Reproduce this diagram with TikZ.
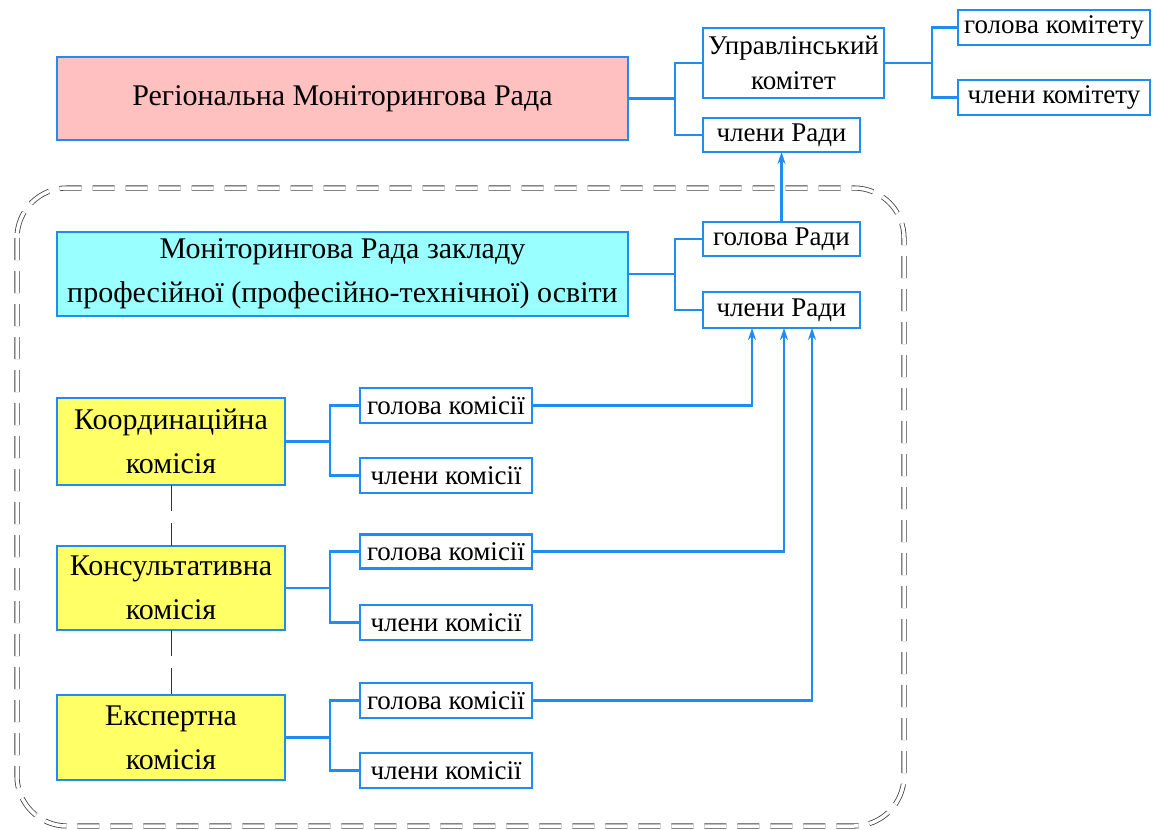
\documentclass[tikz,border=0pt]{standalone}
\usepackage{fontspec}
\setmainfont{Liberation Serif}
\usetikzlibrary{arrows.meta}
\definecolor{linkblue}{HTML}{1E8CF0}
\definecolor{regpink}{HTML}{FFC0C0}
\definecolor{eduCyan}{HTML}{99FFFF}
\definecolor{comYellow}{HTML}{FFFF66}
\newcommand{\bigtxt}{\fontsize{30}{44}\selectfont}
\newcommand{\smalltxt}{\fontsize{27}{35}\selectfont}
\begin{document}
\begin{tikzpicture}[x=1pt,y=-1pt,
  every node/.style={inner sep=0pt, outer sep=0pt},
  bigbox/.style={draw=linkblue, line width=2.8pt, align=center, font=\bigtxt},
  smallbox/.style={draw=linkblue, line width=2.8pt, fill=white, align=center, font=\smalltxt},
  link/.style={draw=linkblue, line width=2.8pt},
  uparrow/.style={link, -{Stealth[length=12pt,width=8pt]}},
  chain/.style={draw=black!80, line width=1pt, dash pattern=on 26pt off 12pt},
  frame/.style={draw=black!75, line width=0.8pt, double=white, double distance=3.5pt,
    dash pattern=on 22pt off 11pt, rounded corners=50pt}]
\useasboundingbox (0,0) rectangle (1162,830);

% outer frame of the institution level
\draw[frame] (17,188) rectangle (904,826);

% regional level
\node[bigbox, fill=regpink, minimum width=571pt, minimum height=83pt] (reg) at (342.5,98.5) {Регіональна Моніторингова Рада};
\node[smallbox, minimum width=181pt, minimum height=70pt] (upr) at (793.5,63) {Управлінський\\комітет};
\node[smallbox, minimum width=157pt, minimum height=34pt] (rchl) at (781.5,135) {члени Ради};
\node[smallbox, minimum width=192pt, minimum height=35pt] (khol) at (1054,27.5) {голова комітету};
\node[smallbox, minimum width=192pt, minimum height=35pt] (kchl) at (1054,97.5) {члени комітету};

% institution level
\node[bigbox, fill=eduCyan, minimum width=571pt, minimum height=84pt] (mon) at (342.5,274) {Моніторингова Рада закладу\\професійної (професійно-технічної) освіти};
\node[smallbox, minimum width=157pt, minimum height=34pt] (mhol) at (781.5,239) {голова Ради};
\node[smallbox, minimum width=157pt, minimum height=36pt] (mchl) at (781.5,310) {члени Ради};

% commissions
\node[bigbox, fill=comYellow, minimum width=228pt, minimum height=87pt] (c1) at (171,441.5) {Координаційна\\комісія};
\node[bigbox, fill=comYellow, minimum width=228pt, minimum height=84pt] (c2) at (171,588) {Консультативна\\комісія};
\node[bigbox, fill=comYellow, minimum width=228pt, minimum height=85pt] (c3) at (171,737.5) {Експертна\\комісія};

\node[smallbox, minimum width=172pt, minimum height=35pt] (h1) at (446,405.5) {голова комісії};
\node[smallbox, minimum width=172pt, minimum height=35pt] (m1) at (446,475.5) {члени комісії};
\node[smallbox, minimum width=172pt, minimum height=34pt] (h2) at (446,551.5) {голова комісії};
\node[smallbox, minimum width=172pt, minimum height=35pt] (m2) at (446,622.5) {члени комісії};
\node[smallbox, minimum width=172pt, minimum height=35pt] (h3) at (446,700.5) {голова комісії};
\node[smallbox, minimum width=172pt, minimum height=35pt] (m3) at (446,770.5) {члени комісії};

% branching connectors
\draw[link] (reg.east) -- (675,98.5);
\draw[link] (upr.west) -| (675,135) -- (rchl.west);
\draw[link] (upr.east) -- (932,63);
\draw[link] (khol.west) -| (932,97.5) -- (kchl.west);
\draw[link] (mon.east) -- (675,274);
\draw[link] (mhol.west) -| (675,310) -- (mchl.west);
\foreach \c/\h/\m in {c1/h1/m1, c2/h2/m2, c3/h3/m3}{
  \draw[link] (\c.east) -- (330,0 |- \c.east);
  \draw[link] (\h.west) -| (330,0 |- \m.west) -- (\m.west);
}

% reporting arrows
\draw[uparrow] (mhol.north) -- (rchl.south);
\draw[uparrow] (h1.east) -| (752,0 |- mchl.south);
\draw[uparrow] (h2.east) -| (784,0 |- mchl.south);
\draw[uparrow] (h3.east) -| (812,0 |- mchl.south);

% links between commissions
\draw[chain] (c1.south) -- (c2.north);
\draw[chain] (c2.south) -- (c3.north);
\end{tikzpicture}
\end{document}
